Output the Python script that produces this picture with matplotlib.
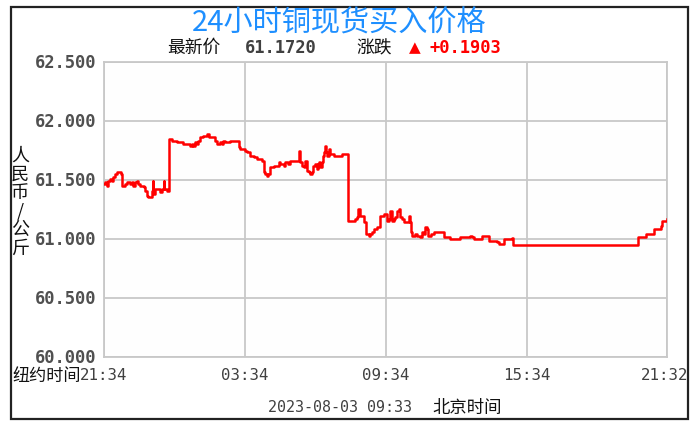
import matplotlib.pyplot as plt
from matplotlib.patches import Rectangle
import numpy as np

# minutes since 21:34 (New York time axis) and price (yuan / kg)
minutes = [0, 3, 7, 11, 15, 20, 24, 28, 32, 41, 43, 45, 54, 58, 66, 71, 75, 79, 84, 88,
           92, 101, 105, 109, 113, 118, 122, 124, 126, 130, 139, 143, 147, 152, 153, 160,
           165, 173, 182, 186, 194, 203, 211, 220, 224, 228, 233, 237, 241, 246, 254, 263,
           267, 280, 284, 288, 297, 301, 305, 309, 314, 322, 331, 339, 344, 348, 356, 361,
           365, 373, 382, 386, 390, 399, 403, 408, 412, 416, 420, 425, 433, 442, 446, 450,
           459, 463, 467, 471, 476, 484, 493, 497, 500, 506, 510, 514, 518, 523, 527, 531,
           535, 540, 544, 546, 548, 552, 557, 559, 563, 565, 568, 570, 574, 578, 587, 604,
           608, 621,
           623, 638, 642, 646, 650, 655, 659, 663, 668, 672, 676, 680, 685, 689, 697, 702,
           704, 706, 714, 719, 723, 727, 731, 736, 740, 744, 748, 753, 757, 761, 766, 770,
           774, 778, 781, 783, 787, 791, 795, 800, 804, 808, 812, 817, 821, 825, 827, 834,
           842, 851, 864, 868, 876, 881, 885, 893, 902, 910, 919, 923, 928, 936, 940, 945,
           962, 966, 979, 983, 987, 1004, 1009, 1017, 1021, 1030, 1043, 1045, 1362, 1364,
           1379, 1384, 1401, 1405, 1418, 1422, 1426, 1435, 1437]
prices = [61.466, 61.480, 61.452, 61.494, 61.509, 61.494, 61.523, 61.551, 61.565, 61.571,
          61.551, 61.452, 61.466, 61.480, 61.466, 61.480, 61.452, 61.480, 61.494, 61.466,
          61.452, 61.438, 61.410, 61.367, 61.353, 61.353, 61.410, 61.494, 61.381, 61.424,
          61.424, 61.396, 61.424, 61.494, 61.424, 61.410,
          61.848, 61.833, 61.833, 61.819, 61.819, 61.805, 61.805, 61.791, 61.805, 61.791,
          61.819, 61.805, 61.833, 61.862, 61.876, 61.890, 61.862, 61.862, 61.833, 61.805,
          61.819, 61.805, 61.833, 61.819, 61.819, 61.833, 61.833, 61.833, 61.777, 61.763,
          61.763, 61.749, 61.735, 61.706, 61.692, 61.692, 61.678, 61.678, 61.664, 61.565,
          61.551, 61.537, 61.551, 61.607, 61.622, 61.622, 61.650, 61.636, 61.622, 61.650,
          61.650, 61.636, 61.664, 61.664, 61.664, 61.749, 61.650, 61.622, 61.607, 61.664,
          61.579, 61.565, 61.551, 61.565, 61.622, 61.636, 61.593, 61.636, 61.650, 61.607,
          61.650, 61.706, 61.735, 61.791, 61.735, 61.706, 61.763, 61.720, 61.706, 61.706,
          61.720, 61.720,
          61.155, 61.155, 61.170, 61.184, 61.254, 61.198, 61.198, 61.141, 61.042, 61.042,
          61.028, 61.042, 61.057, 61.085, 61.099, 61.099, 61.155, 61.198, 61.212, 61.212,
          61.155, 61.170, 61.240, 61.155, 61.170, 61.184, 61.240, 61.254, 61.184, 61.170,
          61.141, 61.141, 61.141, 61.198, 61.141, 61.057, 61.028, 61.028, 61.042, 61.028,
          61.028, 61.014, 61.057, 61.042, 61.099, 61.085, 61.028, 61.042, 61.057, 61.057,
          61.057, 61.014, 61.014, 61.014, 61.000, 61.000, 61.000, 61.014, 61.014, 61.014,
          61.014, 61.028, 61.014, 61.000, 61.000, 61.028, 61.028, 60.986, 60.986, 60.972,
          60.958, 60.958, 61.000, 61.000, 61.006, 60.949, 60.949, 61.014, 61.014, 61.042,
          61.042, 61.085, 61.085, 61.113, 61.155, 61.155, 61.172]

xtick_pos = [0, 360, 720, 1080, 1438]
xtick_labels = ['21:34', '03:34', '09:34', '15:34', '21:32']
ytick_vals = [60.0, 60.5, 61.0, 61.5, 62.0, 62.5]

W, H = 691, 427
fig = plt.figure(figsize=(W / 100, H / 100), dpi=100)
fig.patch.set_facecolor('white')

# outer frame
fig.add_artist(Rectangle((11 / W, 1 - 420 / H), 677 / W, 412 / H, transform=fig.transFigure,
                         fill=False, edgecolor='#222222', linewidth=1.6))

ax = fig.add_axes([104 / W, 1 - 358 / H, 563 / W, 295 / H])
ax.set_facecolor('#fefefe')
ax.step(minutes, prices, where='post', color='#ff0000', linewidth=1.8, zorder=5)
ax.set_xlim(0, 1438)
ax.set_ylim(60.0, 62.5)

ax.set_xticks(xtick_pos)
ax.set_yticks(ytick_vals)
ax.set_xticklabels([])
ax.set_yticklabels([])
ax.tick_params(length=0)
ax.grid(True, color='#c8c8c8', linewidth=1.3, zorder=1)
for s in ax.spines.values():
    s.set_color('#c8c8c8')
    s.set_linewidth(1.3)

mono = ['DejaVu Sans Mono', 'Noto Sans CJK SC']
cjk = ['Noto Sans CJK SC', 'DejaVu Sans']

for v in ytick_vals:
    ax.text(-0.014, (v - 60.0) / 2.5, '%.3f' % v, transform=ax.transAxes, ha='right',
            va='center', fontsize=12.3, fontweight='bold', color='#505050', family=mono)

for p, lab in zip(xtick_pos, xtick_labels):
    ha = 'center'
    xx = p / 1438
    if lab == '21:32':
        ha = 'right'
        xx = 1.038
    ax.text(xx, -0.06, lab, transform=ax.transAxes, ha=ha, va='center',
            fontsize=11.3, color='#404040', family=mono)

fig.text(12 / W, 1 - 376 / H, '纽约时间', ha='left', va='center', fontsize=12.3,
         color='#111111', family=cjk)

# y label: stacked characters
ylab = '人民币/公斤'
for i, ch in enumerate(ylab):
    fig.text(20 / W, 1 - (156 + i * 18.5) / H, ch, ha='center', va='center', fontsize=13,
             color='#111111', family=cjk)

fig.text(339 / W, 1 - 23 / H, '24小时铜现货买入价格', ha='center', va='center', fontsize=21,
         fontweight='medium', color='#1e8fff', family=cjk)

fig.text(167 / W, 1 - 48 / H, '最新价', ha='left', va='center', fontsize=12.8,
         color='#111111', family=cjk)
fig.text(245 / W, 1 - 48 / H, '61.1720', ha='left', va='center', fontsize=12.3,
         fontweight='bold', color='#404040', family=mono)
fig.text(356 / W, 1 - 48 / H, '涨跌', ha='left', va='center', fontsize=12.8,
         color='#111111', family=cjk)
fig.text(409 / W, 1 - 48 / H, '▲', ha='left', va='center', fontsize=11,
         color='#ff0000', family=['DejaVu Sans'])
fig.text(429 / W, 1 - 48 / H, '+0.1903', ha='left', va='center', fontsize=12.3,
         fontweight='bold', color='#ff0000', family=mono)

fig.text(268 / W, 1 - 408 / H, '2023-08-03 09:33', ha='left', va='center', fontsize=10.8,
         color='#404040', family=mono)
fig.text(432 / W, 1 - 408 / H, '北京时间', ha='left', va='center', fontsize=12.5,
         color='#111111', family=cjk)

plt.savefig('out.png', dpi=100)
